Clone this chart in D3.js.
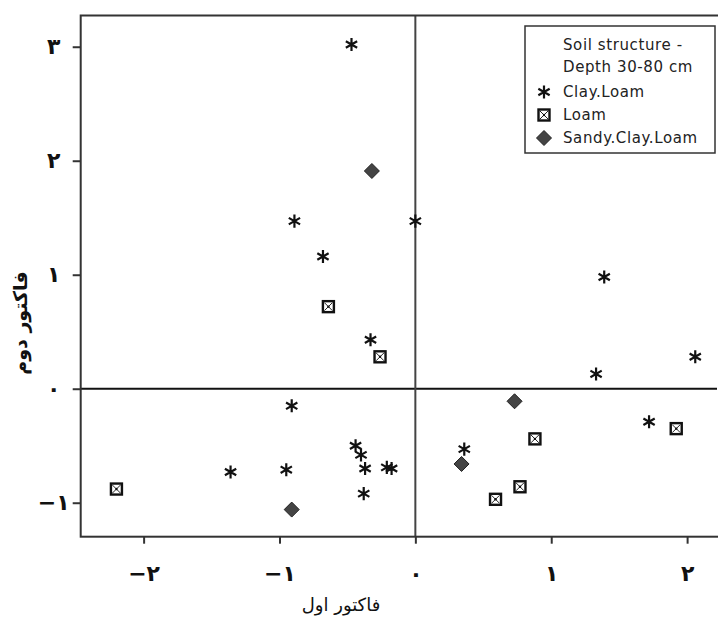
<!DOCTYPE html>
<html>
<head>
<meta charset="utf-8">
<script src="https://cdn.jsdelivr.net/npm/d3@7"></script>
<style>
  body { margin: 0; background: #fff; }
  svg { display: block; }
</style>
</head>
<body>
<div id="chart"></div>
<script>
// Clay.Loam points [factor 1, factor 2]
const clayLoam = [
  [-0.47, 3.02], [-0.89, 1.47], [0.0, 1.47], [-0.68, 1.16], [-0.33, 0.43],
  [-0.91, -0.15], [-1.36, -0.73], [-0.95, -0.71], [-0.44, -0.50], [-0.40, -0.58],
  [-0.37, -0.70], [-0.21, -0.69], [-0.175, -0.70], [-0.38, -0.92],
  [1.39, 0.98], [2.06, 0.28], [1.33, 0.13], [0.36, -0.53], [1.72, -0.29]
];
const loam = [
  [-0.64, 0.72], [-0.26, 0.28], [-2.20, -0.88], [0.88, -0.44],
  [0.77, -0.86], [0.59, -0.97], [1.92, -0.35]
];
const sandyClayLoam = [
  [-0.32, 1.91], [0.73, -0.11], [0.34, -0.66], [-0.91, -1.06]
];

const xTicks = [-2, -1, 0, 1, 2];
const xTickLabels = ["−۲", "−۱", "۰", "۱", "۲"];
const yTicks = [-1, 0, 1, 2, 3];
const yTickLabels = ["−۱", "۰", "۱", "۲", "۳"];

const legendTitle = ["Soil structure -", "Depth 30-80 cm"];
const legendNames = ["Clay.Loam", "Loam", "Sandy.Clay.Loam"];

const width = 718, height = 632;
const margins = { top: 15.5, right: 1, bottom: 95.3, left: 80.7 };

const svg = d3.select("#chart").append("svg")
  .attr("width", width)
  .attr("height", height);

const x = d3.scaleLinear().domain([-2.463, 2.22])
  .range([margins.left, width - margins.right]);
const y = d3.scaleLinear().domain([-1.298, 3.274])
  .range([height - margins.bottom, margins.top]);

// zero lines
svg.append("line")
  .attr("x1", x.range()[0]).attr("x2", x.range()[1])
  .attr("y1", y(0)).attr("y2", y(0))
  .attr("stroke", "#111").attr("stroke-width", 2);
svg.append("line")
  .attr("x1", x(0)).attr("x2", x(0))
  .attr("y1", y.range()[0]).attr("y2", y.range()[1])
  .attr("stroke", "#444").attr("stroke-width", 2);

// frame
svg.append("rect")
  .attr("x", x.range()[0]).attr("y", y.range()[1])
  .attr("width", x.range()[1] - x.range()[0] + 4)
  .attr("height", y.range()[0] - y.range()[1])
  .attr("fill", "none").attr("stroke", "#333").attr("stroke-width", 2);

// axes
const xAxis = svg.append("g")
  .attr("transform", "translate(0," + y.range()[0] + ")")
  .call(d3.axisBottom(x).tickValues(xTicks).tickSize(7).tickPadding(22)
    .tickFormat((d, i) => xTickLabels[i]));
const yAxis = svg.append("g")
  .attr("transform", "translate(" + x.range()[0] + ",0)")
  .call(d3.axisLeft(y).tickValues(yTicks).tickSize(8).tickPadding(10)
    .tickFormat((d, i) => yTickLabels[i]));
[xAxis, yAxis].forEach(g => {
  g.select(".domain").remove();
  g.selectAll(".tick line").attr("stroke", "#333").attr("stroke-width", 2);
  g.selectAll(".tick text")
    .attr("fill", "#111")
    .attr("font-family", "DejaVu Sans")
    .attr("font-size", 22)
    .attr("font-weight", "bold")
    .attr("direction", "ltr");
});
yAxis.selectAll(".tick text").attr("text-anchor", "middle").attr("x", -27);

// axis titles
svg.append("text")
  .attr("x", 341).attr("y", 611)
  .attr("text-anchor", "middle")
  .attr("font-family", "DejaVu Sans")
  .attr("font-size", 18)
  .attr("fill", "#111")
  .text("فاکتور اول");
svg.append("text")
  .attr("transform", "translate(27,323) rotate(-90)")
  .attr("text-anchor", "middle")
  .attr("font-family", "DejaVu Sans")
  .attr("font-size", 19)
  .attr("font-weight", "bold")
  .attr("fill", "#111")
  .text("فاکتور دوم");

// marker drawing
const star = d3.symbol().type(d3.symbolAsterisk).size(120);
function drawStar(g) {
  g.append("path").attr("d", star())
    .attr("fill", "none").attr("stroke", "#111").attr("stroke-width", 2.2);
}
function drawLoam(g) {
  g.append("rect").attr("x", -5.5).attr("y", -5.5).attr("width", 11).attr("height", 11)
    .attr("fill", "#fff").attr("stroke", "#111").attr("stroke-width", 2.4);
  g.append("path").attr("d", "M-4,-4L4,4M-4,4L4,-4")
    .attr("stroke", "#222").attr("stroke-width", 1);
  g.append("circle").attr("r", 1.2).attr("fill", "#111");
}
function drawDiamond(g) {
  g.append("path").attr("d", "M0,-7.5L7.5,0L0,7.5L-7.5,0Z")
    .attr("fill", "#444").attr("stroke", "#222").attr("stroke-width", 1);
}

const series = [
  { data: clayLoam, draw: drawStar },
  { data: loam, draw: drawLoam },
  { data: sandyClayLoam, draw: drawDiamond }
];
const points = svg.append("g").attr("id", "points");
series.forEach(s => {
  s.data.forEach(d => {
    const g = points.append("g")
      .attr("transform", "translate(" + x(d[0]) + "," + y(d[1]) + ")");
    s.draw(g);
  });
});

// legend
const legend = svg.append("g").attr("id", "legend");
legend.append("rect")
  .attr("x", 525).attr("y", 26).attr("width", 190).attr("height", 127)
  .attr("fill", "#fff").attr("stroke", "#333").attr("stroke-width", 1.5);
legendTitle.forEach((t, i) => {
  legend.append("text")
    .attr("x", 563).attr("y", 50 + i * 22)
    .attr("font-family", "DejaVu Sans").attr("font-size", 15)
    .attr("letter-spacing", 0.6)
    .attr("fill", "#222").text(t);
});
legendNames.forEach((t, i) => {
  const yy = 92 + i * 23;
  const g = legend.append("g").attr("transform", "translate(544," + yy + ")");
  series[i].draw(g);
  legend.append("text")
    .attr("x", 563).attr("y", yy + 5)
    .attr("font-family", "DejaVu Sans").attr("font-size", 15)
    .attr("letter-spacing", 0.6)
    .attr("fill", "#222").text(t);
});
</script>
</body>
</html>
